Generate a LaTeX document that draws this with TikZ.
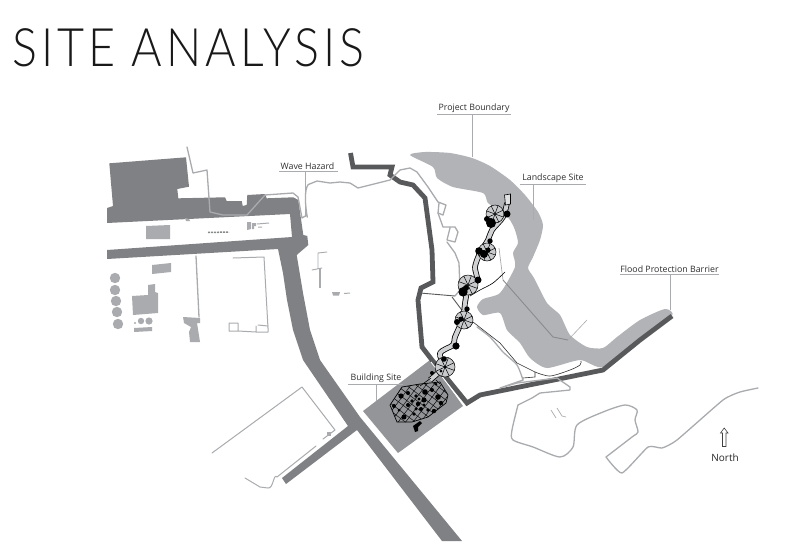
\documentclass[tikz,border=0pt]{standalone}
\usepackage{fontspec}
\setmainfont{Open Sans}
\newfontfamily\ttlfont[LetterSpace=7.5,FakeStretch=0.88]{Lato Light}
\usetikzlibrary{calc}
\definecolor{roadc}{HTML}{808184}
\definecolor{sitec}{HTML}{939598}
\definecolor{landc}{HTML}{B1B3B6}
\definecolor{linec}{HTML}{A9ABAE}
\definecolor{barc}{HTML}{58595B}
\definecolor{lblc}{HTML}{2E2E2E}
\tikzset{
  lbl/.style={font=\fontsize{8.8}{10}\selectfont,text=lblc,inner sep=0pt,inner ysep=2.2pt,anchor=base},
  uline/.style={draw=linec,line width=0.6pt},
  lead/.style={draw=linec,line width=0.9pt},
  thin grey/.style={draw=linec,line width=1.3pt,line join=round,line cap=round},
  bldg/.style={fill=linec,draw=none},
  road/.style={fill=roadc,draw=none},
  blk/.style={draw=black,line width=0.6pt},
  dk/.style={draw=barc,line width=0.9pt},
}
\newcommand{\mywheel}[3]{%
  \draw[black,line width=0.5pt,fill=landc!70] (#1,#2) circle (#3);
  \foreach \aa in {20,65,...,335}{\draw[black,line width=0.5pt] (#1,#2) -- ++(\aa:#3);}
}
\begin{document}
\begin{tikzpicture}[x=1pt,y=-1pt]
\useasboundingbox (0,0) rectangle (800,544);
\fill[white] (0,0) rectangle (800,544);
% title
\node[anchor=base west,inner sep=0pt,font=\fontsize{53}{53}\selectfont\ttlfont,text=black!90] (title) at (12,66) {SITE ANALYSIS};

% road
\path[road] (109.3,163.3) -- (186,157.3) -- (189,186.7) -- (177.3,189) -- (178.3,198.3) -- (225,197.3) -- (226.7,201) -- (241.7,201) -- (242.7,206) -- (246.7,205) -- (247.3,195) -- (265,194) -- (266.7,198.3) -- (293.3,197.3) -- (298.3,200) -- (303.3,235) -- (307.3,236) -- (308.3,245) -- (296.7,255) -- (303,293) -- (310,330) -- (320,360) -- (360,417) -- (462,541) -- (442,541) -- (357,430) -- (286,484) -- (282,478) -- (348,426) -- (303,360) -- (293,330) -- (287,300) -- (283,273) -- (278,249) -- (107,259) -- (107,250) -- (292,237) -- (290,214) -- (107,223) -- (107,208) -- (113,206) -- cycle;

% building site
\fill[sitec] (363,411) -- (430,360) -- (463,406) -- (398,453) -- cycle;

% landscape
\fill[landc] plot[smooth cycle,tension=0.4] coordinates {(410,155) (425,152) (450,153) (472,158) (490,166) (510,180) (525,195) (538,212) (543,225) (540,240) (533,257) (528,268) (534,278) (547,303) (560,315) (570,335) (587,347) (603,348) (617,337) (640,320) (665,309) (672,316) (640,340) (603,367) (580,360) (547,368) (530,358) (520,343) (507,330) (500,313) (483,315) (477,307) (483,299) (500,293) (515,267) (513,253) (518,243) (515,230) (510,220) (503,213) (488,203) (483,193) (453,187) (437,178) (433,167)};

% small buildings
\path[bldg] (146,226) -- (170,225) -- (170,239) -- (146,239) -- cycle;
\path[bldg] (152,265) -- (171,263) -- (171,272) -- (152,274) -- cycle;
\foreach \cx/\cy in {115/278,115/290,116/301,117/312,118/324}{\fill[linec] (\cx,\cy) circle (5.2);}
\path[bldg] (132,296) -- (148,295) -- (148,285) -- (155,284) -- (155,292) -- (158,293) -- (158,313) -- (133,315) -- cycle;
\fill[linec] (141,321) circle (3.2) (149,321) circle (3.6) (135,323) circle (1.2);
\path[bldg] (134,328) -- (152,327) -- (152,331) -- (134,332) -- cycle;
\draw[thin grey] (196,256) -- (199,317);
\path[bldg] (183,317) -- (200,318) -- (200,323) -- (197,323) -- (200,342) -- (190,342) -- (189,332) -- (191,327) -- (184,323) -- cycle;
\draw[thin grey,line width=1pt] (233,258) -- (264,257) -- (268,328);
\draw[thin grey,line width=1pt] (268,328) -- (268,332) -- (256,332) -- (256,326) (256,332) -- (238,331) -- (238,323) -- (229,323) -- (229,331) -- (238,331) (258,325) -- (268,326);
\path[bldg] (247,222) -- (251,222) -- (251,229) -- (247,230) -- cycle;
\path[bldg] (252,223) -- (256,223) -- (256,226) -- (254,226) -- (254,229) -- (252,229) -- cycle;
\draw[linec,line width=1pt] (257,224) -- (269,223) (258,227) -- (262,227);
\draw[linec!80!black,line width=1.5pt,dash pattern=on 2pt off 1pt] (208,232.5) -- (229,232);
\path[bldg] (185,218) -- (189,219) -- (190,221) -- (186,221) -- cycle;
\draw[thin grey,line width=0.9pt] (327,252) -- (318,253) -- (318,268) (312,270) -- (322,268);
\draw[linec,line width=2pt] (320,268) -- (320,288);
\path[bldg] (332,292) -- (340,292) -- (339,295.5) -- (333,295.5) -- cycle;
\draw[linec,line width=1pt] (344,293.5) -- (350,293);

% lower left lines
\draw[thin grey,line width=1pt] (212,453) -- (302,387) -- (335,430) -- (323,439);
\draw[thin grey,line width=1pt] (316,446) -- (277,477) to[out=130,in=-10] (268,488) -- (260,487) -- (245,478);
\fill[linec] (327,432) rectangle (331,436);

% flood barrier
\draw[barc,line width=4.8pt,line join=miter] (350.5,153) -- (353,167) -- (392,167) -- (390,175) -- (400,182) -- (413,185) -- (425,198) -- (432,250) -- (433,282) -- (421,288) -- (418,300) -- (422,347) -- (432,360) -- (467,403) -- (480,395) -- (603,370) -- (640,340) -- (672,316);
\draw[white,line width=0.9pt] (431,362) -- (463,404);

% wave / shoreline lines
\draw[thin grey] (187,147) -- (193,173) -- (207,170) -- (210,212) -- (223,215) -- (247,215) -- (265,195) -- (293,193) -- (298,197) -- (302,218) -- (307,215) to[out=-80,in=175] (312,183) -- (317,181) -- (330,183) -- (340,182) -- (350,183) -- (358,188) -- (390,180) -- (400,170) -- (410,168) -- (417,172) -- (428,187) -- (438,202) -- (446,205) -- (443,215) -- (438,213) -- (439,203);
\draw[thin grey] (438,213) -- (443,227) -- (455,227) -- (458,232) -- (455,242) -- (447,240) -- (450,228);
\draw[thin grey] (447,242) -- (455,253) -- (459,263) -- (460,290) -- (455,296);
\draw[thin grey] plot[smooth,tension=0.4] coordinates {(477,327) (490,337) (503,352) (517,365) (523,380)};
\draw[thin grey] (523,380) -- (500,388) -- (517,383) -- (557,378) -- (570,387) -- (570,390) -- (540,393) -- (532,398) -- (518,405);
\draw[thin grey] plot[smooth,tension=0.45] coordinates {(518,405) (512,430) (513,440) (533,447) (560,457) (573,447) (577,425) (603,412) (625,405) (637,410) (635,420) (638,432) (632,437) (606,457)};
\draw[thin grey] plot[smooth,tension=0.3] coordinates {(606,457) (622,473) (648,447) (662,448) (677,440) (723,400) (740,392) (758,388)};
\draw[linec,line width=0.7pt] (551,410) -- (556,418) (557,408) -- (562,416) -- (566,417);

% thin dark lines
\draw[dk] (420,293) -- (455,296);
\draw[dk] (452,297) -- (467,317);
\draw[dk,draw=barc!70] (503,280) -- (553,337) -- (568,340);
\draw[linec,line width=0.6pt] (568,340) -- (587,320);
\draw[linec,line width=0.7pt] (499,248) -- (503,280);
\draw[blk] plot[smooth,tension=0.5] coordinates {(505,272) (493,283) (480,290) (470,296)};
\draw[blk,draw=black!80] (473,322) -- (500,343) -- (517,363) -- (535,372) -- (535,377) -- (523,378);
\draw[blk,draw=black!80] plot[smooth,tension=0.5] coordinates {(535,372) (550,376) (570,370) (580,365) (581,361)};

% walkway
\draw[black,line width=5.6pt,line join=round] plot[smooth,tension=0.5] coordinates {(507,203) (503,217) (492,230) (488,240) (480,253) (475,267) (477,280) (468,290) (465,303) (463,318) (455,337) (453,345) (440,353) (443,367) (430,380)};
\draw[landc!60,line width=4pt,line join=round] plot[smooth,tension=0.5] coordinates {(507,203) (503,217) (492,230) (488,240) (480,253) (475,267) (477,280) (468,290) (465,303) (463,318) (455,337) (453,345) (440,353) (443,367) (430,380)};
\draw[black,line width=0.6pt,fill=landc!40] (504.5,195) -- (510.5,194) -- (510.5,204) -- (505.5,205) -- cycle;
\mywheel{495}{214}{9}
\mywheel{487}{252}{9}
\mywheel{468}{285}{10}
\mywheel{464}{320}{9}
\mywheel{445}{367}{10}
\foreach \bx/\by/\br in {507/214/3.5,491/223/5,487/219/3,490/241/2.7,479/251/3.8,484/254/4,488/250/2.5,478/280/3.5,463/292/4.6,466/288/3,467/309/2.7,457/322/3,461/319/2.5,456/346/3.6,444/359/2.8,445/367/1.3,441/371/1.5}{\fill[black] (\bx,\by) circle (\br);}

% building network
\begin{scope}
\clip (390,405) -- (402,387) -- (420,384) -- (440,382) -- (448,395) -- (446,403) -- (428,417) -- (412,422) -- (397,422) -- cycle;
\begin{scope}[rotate around={-37:(420,403)}]
\foreach \gx in {-36,-30,...,40}{\draw[black,line width=0.45pt] (420+\gx,370) -- (420+\gx,440);}
\foreach \gy in {-30,-24,...,30}{\draw[black,line width=0.45pt] (370,403+\gy) -- (470,403+\gy);}
\end{scope}
\end{scope}
\draw[black,line width=0.7pt] (390,405) -- (402,387) -- (420,384) -- (440,382) -- (448,395) -- (446,403) -- (428,417) -- (412,422) -- (397,422) -- cycle;
\foreach \bx/\by/\br in {394/406/2,401/396/2.6,404/417/2.5,416/396/1.8,425/392/2.8,432/390/2,438/397/2.8,441/403/2.2,408/405/2,424/400/2.5,428/410/1.8,412/401/1.8,434/411/2.2,408/393/2,436/384/1.5,399/410/1.5,414/414/1.8,418/404/2.2,421/409/2,416/409/1.6,424/405/1.6,419/399/1.6}{\fill[black] (\bx,\by) circle (\br);}
\fill[black] (413,426) -- (420,421) -- (422,423) -- (418,427) -- (418,431) -- (415,432) -- cycle;
\draw[black,line width=0.6pt] (431,378) -- (420,386) (436,380) -- (440,384);
\fill[black] (432,373) circle (2);

% labels
\node[lbl] (pb) at (474,110) {Project Boundary};
\coordinate (pbE) at (472.5,157);
\draw[uline] (pb.south west) ++(-1,0) -- ($(pb.south east)+(1,0)$);
\draw[lead] (pb.south -| pbE) -- (pbE);

\node[lbl] (ls) at (553,180) {Landscape Site};
\coordinate (lsE) at (533.5,220);
\draw[uline] (ls.south west) ++(-2,0) -- ($(ls.south east)+(2,0)$);
\draw[lead] (ls.south -| lsE) -- (lsE);

\node[lbl] (fp) at (669.5,272) {Flood Protection Barrier};
\coordinate (fpE) at (670,310);
\draw[uline] (fp.south west) -- (fp.south east);
\draw[lead] (fp.south -| fpE) -- (fpE);

\node[lbl] (wh) at (307.5,169) {Wave Hazard};
\coordinate (whE) at (305,217);
\draw[uline] (wh.south west) ++(-1,0) -- ($(wh.south east)+(3,0)$);
\draw[lead] (wh.south -| whE) -- (whE);

\node[lbl] (bs) at (376,380) {Building Site};
\coordinate (bsE) at (376,401);
\draw[uline] (bs.south west) ++(-2,0) -- ($(bs.south east)+(1,0)$);
\draw[lead] (bs.south -| bsE) -- (bsE);

\node[font=\fontsize{10}{11}\selectfont,text=black!85,inner sep=0pt,anchor=base] (north) at (725,461.5) {North};
\draw[black!75,line width=0.6pt,line join=miter,fill=white] (722.5,446.5) -- (722.5,433) -- (720.5,433) -- (724.2,428) -- (728,433) -- (726,433) -- (726,446.5) -- cycle;
\end{tikzpicture}
\end{document}
